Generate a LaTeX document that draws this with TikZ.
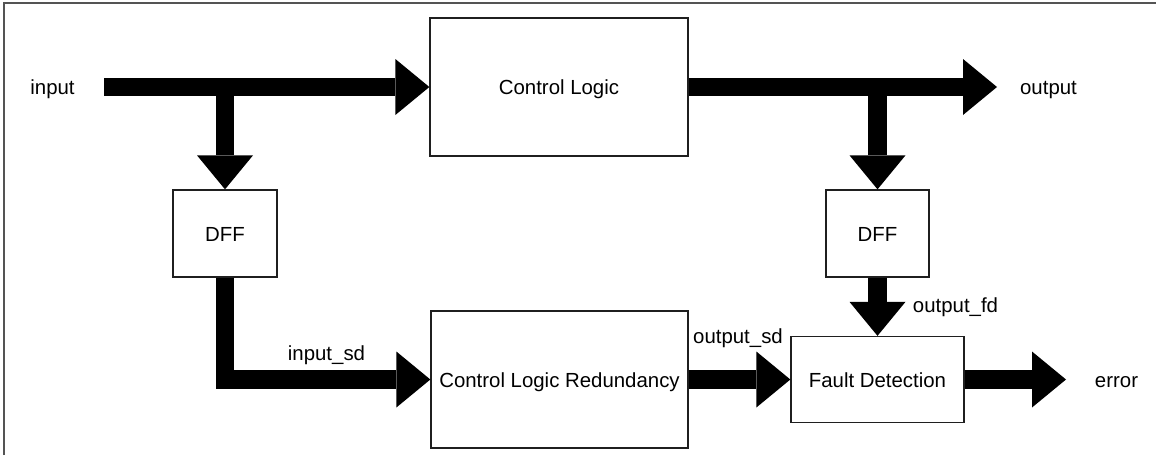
\documentclass[tikz,border=0pt]{standalone}
\usepackage{fontspec}
\setmainfont{Liberation Sans}
\usetikzlibrary{arrows.meta}
\begin{document}
\begin{tikzpicture}[x=1pt,y=-1pt,
  box/.style={draw=black!88,line width=1.3pt,inner sep=0pt,text height=15pt,text depth=0pt,font=\fontsize{20.4}{24}\selectfont},
  lbl/.style={inner sep=0pt,anchor=base,font=\fontsize{20.4}{24}\selectfont},
  bigarrow/.style={line width=18.5pt,line join=miter,-{Triangle[length=34pt,width=56pt,line width=0pt]}},
  frameline/.style={draw=black!67,line width=2pt}
]
\useasboundingbox (0,0) rectangle (1156,455);
\draw[frameline] (4,455) -- (4,3) -- (1156,3);
% boxes
\node[box,minimum width=258pt,minimum height=138pt] (cl) at (559,87) {Control Logic};
\node[box,minimum width=104pt,minimum height=87pt] (dff1) at (225,233.5) {DFF};
\node[box,minimum width=103pt,minimum height=87pt] (dff2) at (877.5,233.5) {DFF};
\node[box,minimum width=257pt,minimum height=137pt] (clr) at (559.5,379.5) {Control Logic Redundancy};
\node[box,minimum width=173pt,minimum height=86pt] (fd) at (877.5,379.5) {Fault Detection};
% labels
\node[lbl] (linput) at (52.5,94) {input};
\node[lbl] (loutput) at (1048.5,94) {output};
\node[lbl] (lerror) at (1116.5,387) {error};
\node[lbl] (linsd) at (326.5,360) {input\_sd};
\node[lbl] (loutsd) at (738,343) {output\_sd};
\node[lbl] (loutfd) at (955.5,312) {output\_fd};
% connectors
\coordinate (inS) at (104,87);
\coordinate (inJ) at (225,87);
\coordinate (outE) at (997,87);
\coordinate (outJ) at (877.5,87);
\coordinate (errE) at (1066,379.5);
\draw[bigarrow] (inS) -- (cl.west);
\draw[bigarrow] (inJ) -- (dff1.north);
\draw[bigarrow] (dff1.south) |- (clr.west);
\draw[bigarrow] (cl.east) -- (outE);
\draw[bigarrow] (outJ) -- (dff2.north);
\draw[bigarrow] (dff2.south) -- (fd.north);
\draw[bigarrow] (clr.east) -- (fd.west);
\draw[bigarrow] (fd.east) -- (errE);
\end{tikzpicture}
\end{document}
